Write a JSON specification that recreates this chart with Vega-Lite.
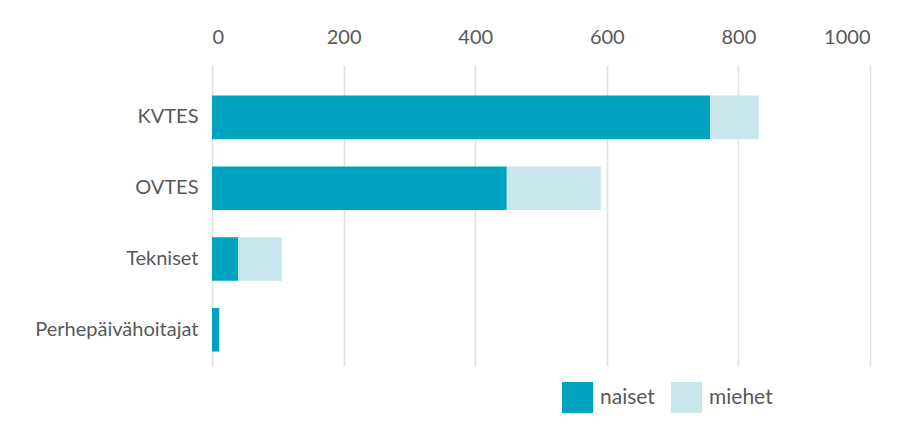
{
  "$schema": "https://vega.github.io/schema/vega-lite/v6.json",
  "width": 658,
  "height": 301,
  "autosize": {"type": "none"},
  "padding": {"left": 212, "top": 65, "right": 48, "bottom": 58},
  "background": "#ffffff",
  "config": {
    "view": {"stroke": null},
    "font": "Lato",
    "axis": {"labelFont": "Lato", "labelColor": "#595959", "labelFontSize": 20},
    "legend": {"labelFont": "Lato", "labelColor": "#595959", "labelFontSize": 21}
  },
  "data": {
    "values": [
      {"sopimus": "KVTES", "sukupuoli": "naiset", "jarjestys": 1, "lkm": 757},
      {"sopimus": "KVTES", "sukupuoli": "miehet", "jarjestys": 2, "lkm": 74},
      {"sopimus": "OVTES", "sukupuoli": "naiset", "jarjestys": 1, "lkm": 448},
      {"sopimus": "OVTES", "sukupuoli": "miehet", "jarjestys": 2, "lkm": 143},
      {"sopimus": "Tekniset", "sukupuoli": "naiset", "jarjestys": 1, "lkm": 40},
      {"sopimus": "Tekniset", "sukupuoli": "miehet", "jarjestys": 2, "lkm": 66},
      {"sopimus": "Perhepäivähoitajat", "sukupuoli": "naiset", "jarjestys": 1, "lkm": 11},
      {"sopimus": "Perhepäivähoitajat", "sukupuoli": "miehet", "jarjestys": 2, "lkm": 0}
    ]
  },
  "mark": {"type": "bar"},
  "encoding": {
    "y": {
      "field": "sopimus",
      "type": "nominal",
      "sort": ["KVTES", "OVTES", "Tekniset", "Perhepäivähoitajat"],
      "scale": {"paddingInner": 0.385, "paddingOuter": 0.318, "align": 0.68},
      "axis": {"title": null, "domain": false, "ticks": false, "labelPadding": 14, "grid": false}
    },
    "x": {
      "field": "lkm",
      "type": "quantitative",
      "stack": "zero",
      "scale": {"domain": [0, 1000], "nice": false},
      "axis": {
        "orient": "top",
        "title": null,
        "domain": false,
        "ticks": false,
        "format": "d",
        "values": [0, 200, 400, 600, 800, 1000],
        "labelPadding": 18,
        "grid": true,
        "gridColor": "#e0e0e0",
        "gridWidth": 1.5
      }
    },
    "color": {
      "field": "sukupuoli",
      "type": "nominal",
      "scale": {"domain": ["naiset", "miehet"], "range": ["#00a3bf", "#c9e6ec"]},
      "legend": {
        "title": null,
        "orient": "none",
        "direction": "horizontal",
        "legendX": 350,
        "legendY": 317,
        "symbolType": "square",
        "symbolSize": 961,
        "symbolStrokeWidth": 0,
        "symbolOpacity": 1,
        "labelOffset": 7,
        "columnPadding": 16
      }
    },
    "order": {"field": "jarjestys", "type": "quantitative"}
  }
}
